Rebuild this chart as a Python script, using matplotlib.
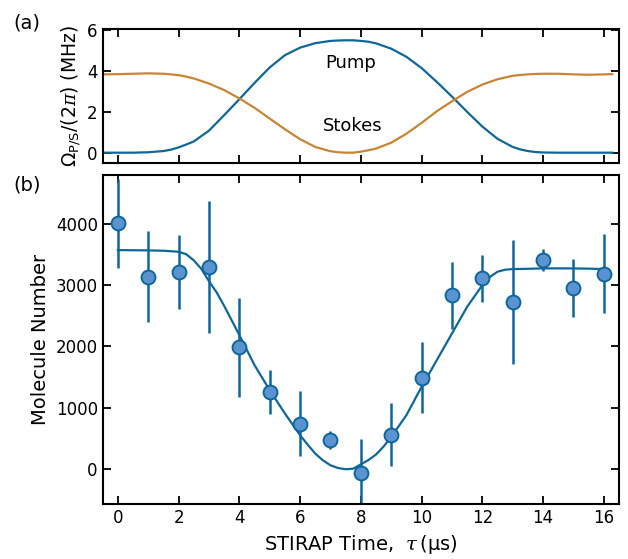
import numpy as np
import matplotlib
matplotlib.use('Agg')
import matplotlib.pyplot as plt

plt.rcParams['font.family'] = ['DejaVu Sans']
plt.rcParams['font.size'] = 12
plt.rcParams['mathtext.fontset'] = 'custom'
plt.rcParams['mathtext.rm'] = 'DejaVu Sans'
plt.rcParams['mathtext.it'] = 'DejaVu Serif:italic'

# Rabi frequencies (top panel)
t_pulse = [-0.5, 0, 0.5, 1, 1.5, 1.75, 2, 2.25, 2.5, 3, 3.5, 4, 4.5, 5, 5.5, 6, 6.5, 7, 7.25, 7.5, 7.65,
           7.75, 8, 8.25, 8.5, 9, 9.5, 10, 10.5, 11, 11.5, 12, 12.5, 13, 13.25, 13.5, 13.75, 14, 14.5,
           15, 15.5, 16, 16.28]
pump = [0, 0, 0, 0.02, 0.08, 0.15, 0.26, 0.4, 0.55, 1.08, 1.84, 2.62, 3.42, 4.18, 4.78, 5.15, 5.37, 5.48, 5.5, 5.51, 5.51,
        5.51, 5.48, 5.44, 5.36, 5.1, 4.7, 4.15, 3.47, 2.75, 2.0, 1.28, 0.68, 0.28, 0.16, 0.08, 0.03, 0.01, 0,
        0, 0, 0, 0]
stokes = [3.84, 3.85, 3.87, 3.89, 3.87, 3.84, 3.80, 3.73, 3.64, 3.39, 3.07, 2.66, 2.20, 1.67, 1.15, 0.66, 0.28, 0.07, 0.02, 0.0, 0.0,
          0.0, 0.05, 0.12, 0.2, 0.49, 0.93, 1.46, 2.03, 2.52, 2.98, 3.34, 3.6, 3.77, 3.81, 3.84, 3.86, 3.87, 3.87,
          3.84, 3.82, 3.84, 3.85]

# Molecule number data (bottom panel)
tau = np.arange(0, 17)
molecules = [4002, 3133, 3215, 3296, 1982, 1260, 744, 472, -54, 565, 1493, 2829, 3106, 2726, 3405, 2954, 3182]
errors = [720, 740, 600, 1075, 800, 353, 530, 145, 540, 520, 585, 550, 380, 1005, 180, 475, 640]

# fit curve
t_fit = [0, 0.5, 1, 1.5, 2, 2.25, 2.5, 2.75, 3, 3.25, 3.5, 4, 4.5, 5, 5.5, 6, 6.25, 6.5, 6.75, 7, 7.25, 7.5, 7.75,
         8, 8.25, 8.5, 8.75, 9, 9.5, 10, 10.5, 11, 11.5, 12, 12.25, 12.5, 12.75, 13, 13.5, 14, 14.5, 15, 15.5, 16]
n_fit = [3567, 3565, 3562, 3557, 3540, 3500, 3400, 3260, 3060, 2880, 2660, 2183, 1694, 1287, 907, 554, 400, 255, 145, 65, 20, 0, 10,
         80, 150, 240, 370, 527, 880, 1341, 1776, 2210, 2644, 2997, 3130, 3215, 3248, 3258, 3263, 3269, 3270, 3269, 3265, 3258]

blue = '#0f6699'
orange = '#c98434'
fill = '#5b93d1'

fig = plt.figure(figsize=(6.28, 5.59), dpi=100)
ax1 = fig.add_axes([0.1635, 0.7079, 0.8222, 0.2397])
ax2 = fig.add_axes([0.1635, 0.0979, 0.8222, 0.5891])

for ax in (ax1, ax2):
    ax.tick_params(direction='in', top=True, right=True, length=6, width=1.3, labelsize=12)
    for s in ax.spines.values():
        s.set_linewidth(1.5)
    ax.set_xlim(-0.5, 16.5)
    ax.set_xticks(np.arange(0, 17, 2))

ax1.plot(t_pulse, pump, color=blue, lw=1.6)
ax1.plot(t_pulse, stokes, color=orange, lw=1.6)
ax1.set_ylim(-0.52, 6.05)
ax1.set_yticks([0, 2, 4, 6])
ax1.set_xticklabels([])
ax1.text(7.67, 4.42, 'Pump', ha='center', va='center', fontsize=13)
ax1.text(7.74, 1.3, 'Stokes', ha='center', va='center', fontsize=13)
ax1.set_ylabel(r'$\Omega_{\mathrm{P/S}}/(2\pi)$ (MHz)', fontsize=13.5, labelpad=3)

ax2.plot(t_fit, n_fit, color=blue, lw=1.6)
ax2.errorbar(tau, molecules, yerr=errors, fmt='o', color=blue, ecolor=blue, elinewidth=1.8,
             capsize=0, markersize=10, markerfacecolor=fill, markeredgecolor=blue, markeredgewidth=1.4)
ax2.set_ylim(-570, 4790)
ax2.set_yticks([0, 1000, 2000, 3000, 4000])
ax2.set_ylabel('Molecule Number', fontsize=14)
ax2.set_xlabel(r'STIRAP Time,  $\tau\,$(μs)', fontsize=14, labelpad=4)

fig.text(0.043, 0.958, '(a)', ha='center', va='center', fontsize=14)
fig.text(0.043, 0.669, '(b)', ha='center', va='center', fontsize=14)

fig.savefig('out.png', dpi=100)
